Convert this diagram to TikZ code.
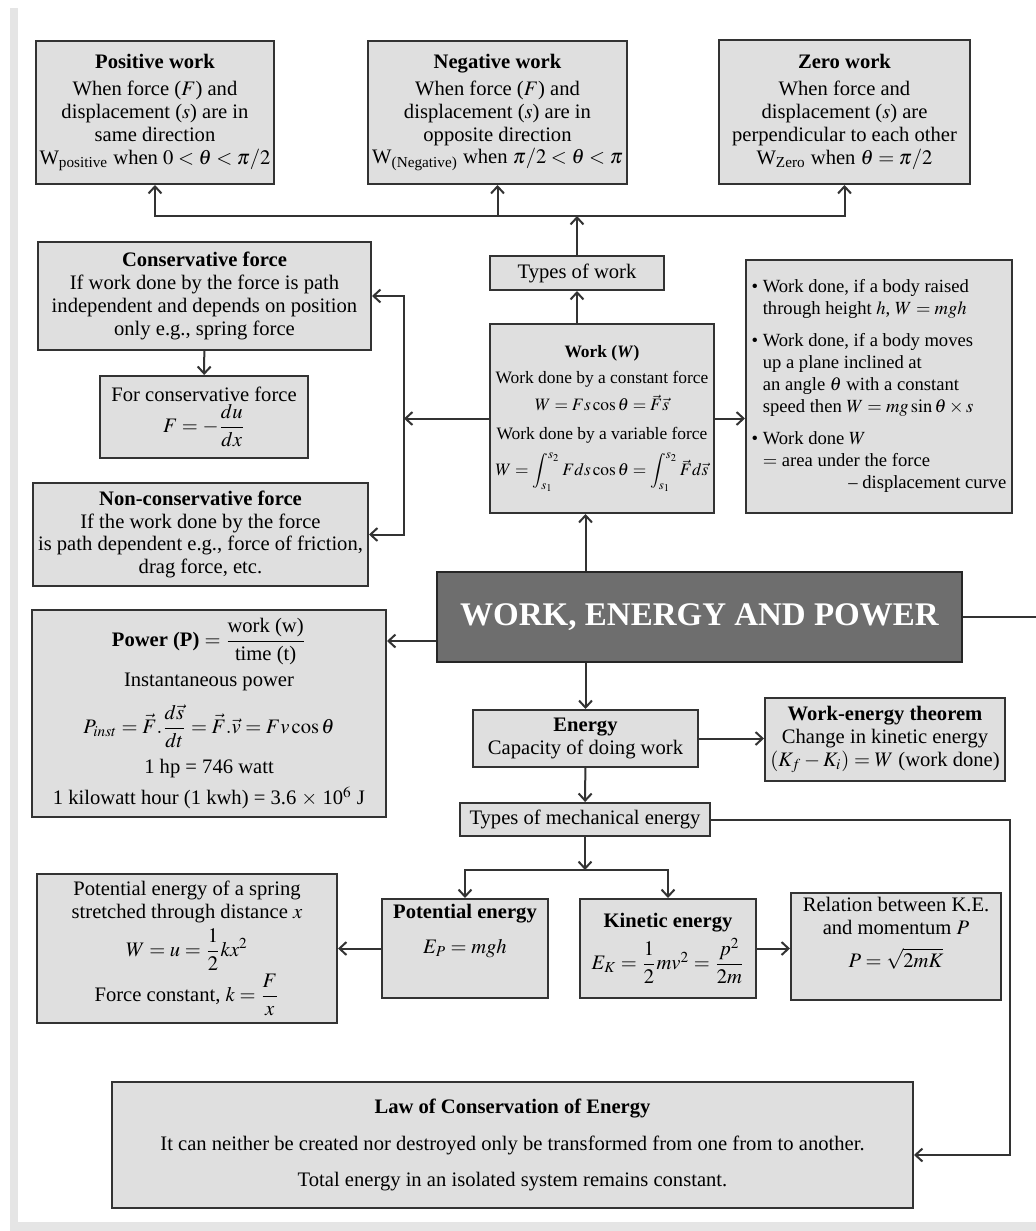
\documentclass[tikz,border=0pt]{standalone}
\usepackage{amsmath}
\usepackage{mathptmx}
\usepackage{fontspec}
\setmainfont{Liberation Serif}
\usetikzlibrary{arrows.meta,positioning}

\tikzset{
    cbox/.style={draw=black!80, fill=gray!25, line width=1pt, align=center,
        inner sep=2pt, font=\fontsize{10.3}{11.4}\selectfont},
    hub/.style={draw=black!85, fill=black!57, line width=1pt, text=white,
        font=\fontsize{16.5}{20}\selectfont\bfseries},
    arr/.style={draw=black!80, line width=1pt, -{Straight Barb[length=3.5pt,width=6.5pt]}},
    lnk/.style={draw=black!80, line width=1pt}
}

\begin{document}
\begin{tikzpicture}[x=0.5pt,y=-0.5pt]
            \useasboundingbox (0,0) rectangle (1036,1231);
            \fill[gray!20] (10,8) rectangle (18,1231);
            \fill[gray!20] (10,1222) rectangle (1036,1231);

            \node[cbox, minimum width=118pt, minimum height=71.5pt] (poswork) at (155,112.5)
                {\textbf{Positive work}\\[2pt] When force ($F$) and\\ displacement ($s$) are in\\ same direction\\
                 W$_{\text{positive}}$ when $0<\theta<\pi/2$};
            \node[cbox, minimum width=129.5pt, minimum height=71.5pt] (negwork) at (497.5,112.5)
                {\textbf{Negative work}\\[2pt] When force ($F$) and\\ displacement ($s$) are in\\ opposite direction\\
                 W$_{\text{(Negative)}}$ when $\pi/2<\theta<\pi$};
            \node[cbox, minimum width=125.5pt, minimum height=72pt] (zerowork) at (844.5,112)
                {\textbf{Zero work}\\[2pt] When force and\\ displacement ($s$) are\\ perpendicular to each other\\
                 W$_{\text{Zero}}$ when $\theta=\pi/2$};

            \node[cbox, minimum width=87pt, minimum height=17pt] (typeswork) at (577,273) {Types of work};
            \coordinate (wbus) at (577,216);

            \node[cbox, font=\fontsize{8.7}{10.4}\selectfont, minimum width=112pt, minimum height=94.5pt] (work) at (602,418.5)
                {\textbf{Work (\textit{W})}\\[3pt] Work done by a constant force\\[3pt]
                 $W=Fs\cos\theta=\vec{F}\vec{s}$\\[4pt] Work done by a variable force\\[4pt]
                 $W=\displaystyle\int_{s_1}^{s_2}Fds\cos\theta=\int_{s_1}^{s_2}\vec{F}d\vec{s}$};

            \node[cbox, font=\fontsize{9.3}{11}\selectfont, align=left, minimum width=133pt, minimum height=126.5pt] (bullets) at (879,386.5)
                {\begin{tabular}{@{}l@{\ }l@{}}
                 \textbullet & Work done, if a body raised\\
                             & through height $h$, $W=mgh$\\[5pt]
                 \textbullet & Work done, if a body moves\\
                             & up a plane inclined at\\
                             & an angle $\theta$ with a constant\\
                             & speed then $W=mg\sin\theta\times s$\\[5pt]
                 \textbullet & Work done $W$\\
                             & $=$ area under the force\\
                             & \hspace*{4.6em}-- displacement curve
                 \end{tabular}};

            \node[cbox, minimum width=166.5pt, minimum height=54pt] (consv) at (204.5,296)
                {\textbf{Conservative force}\\ If work done by the force is path\\
                 independent and depends on position\\ only e.g., spring force};
            \node[cbox, minimum width=104pt, minimum height=41pt] (forconsv) at (204,417)
                {For conservative force\\ $F=-\dfrac{du}{dx}$};
            \node[cbox, minimum width=167.5pt, minimum height=51.5pt] (nonconsv) at (200.5,534.5)
                {\textbf{Non-conservative force}\\ If the work done by the force\\
                 is path dependent e.g., force of friction,\\ drag force, etc.};
            \coordinate (fbus) at (404,418.5);

            \node[hub, minimum width=262.5pt, minimum height=45pt] (title) at (699.5,617)
                {WORK, ENERGY AND POWER};
            \coordinate (edge) at (1036,617);

            \node[cbox, minimum width=177pt, minimum height=103.5pt] (power) at (209,713.5)
                {\textbf{Power (P)} $=\dfrac{\text{work (w)}}{\text{time (t)}}$\\[3pt] Instantaneous power\\[6pt]
                 $P_{inst}=\vec{F}.\dfrac{d\vec{s}}{dt}=\vec{F}.\vec{v}=Fv\cos\theta$\\[5pt]
                 1 hp = 746 watt\\[4pt] 1 kilowatt hour (1 kwh) = 3.6 $\times$ 10$^6$ J};

            \node[cbox, minimum width=112.5pt, minimum height=28.5pt] (energy) at (585.5,738.5)
                {\textbf{Energy}\\ Capacity of doing work};
            \node[cbox, minimum width=120pt, minimum height=41.5pt] (theorem) at (885,739.5)
                {\textbf{Work-energy theorem}\\ Change in kinetic energy\\ $(K_f-K_i)=W$ (work done)};
            \node[cbox, minimum width=125pt, minimum height=16.5pt] (typesmech) at (585,819.5)
                {Types of mechanical energy};
            \coordinate (mbus) at (585,870);

            \node[cbox, minimum width=150pt, minimum height=74.5pt] (spring) at (187,948.5)
                {Potential energy of a spring\\ stretched through distance $x$\\[2pt]
                 $W=u=\dfrac{1}{2}kx^2$\\[1pt] Force constant, $k=\dfrac{F}{x}$};
            \node[cbox, minimum width=83pt, minimum height=49.5pt] (pe) at (465,948.5)
                {\textbf{Potential energy}\\[6pt] $E_P=mgh$\\[8pt]};
            \node[cbox, minimum width=88pt, minimum height=49.5pt] (ke) at (668,948.5)
                {\textbf{Kinetic energy}\\[2pt] $E_K=\dfrac{1}{2}mv^2=\dfrac{p^2}{2m}$};
            \node[cbox, minimum width=105pt, minimum height=49.5pt] (relation) at (896,946.5)
                {Relation between K.E.\\ and momentum $P$\\[5pt] $P=\sqrt{2mK}$\\[3pt]};

            \node[cbox, minimum width=400.5pt, minimum height=63pt] (law) at (512.5,1145)
                {\textbf{Law of Conservation of Energy}\\[7pt]
                 It can neither be created nor destroyed only be transformed from one from to another.\\[7pt]
                 Total energy in an isolated system remains constant.};
            \coordinate (rbus) at (1010,1155);

            \draw[arr] (typeswork) -- (wbus);
            \draw[arr] (wbus) -| (poswork);
            \draw[arr] (wbus) -| (zerowork);
            \draw[arr] (negwork |- wbus) -- (negwork);
            \draw[arr] (work.north -| typeswork) -- (typeswork);
            \draw[arr] (work) -- (work -| bullets.west);
            \draw[arr] (work) -- (fbus);
            \draw[arr] (fbus) |- (consv);
            \draw[arr] (fbus) |- (nonconsv);
            \draw[arr] (consv) -- (forconsv);

            \draw[arr] (title.north -| energy) -- (work.south -| energy);
            \draw[arr] ([yshift=-12pt]title.west) -- ([yshift=-12pt]title.west -| power.east);
            \draw[lnk] (title) -- (edge);
            \draw[arr] (title.south -| energy) -- (energy);
            \draw[arr] (energy) -- (energy -| theorem.west);
            \draw[arr] (energy) -- (typesmech);
            \draw[arr] (typesmech) -- (mbus);
            \draw[arr] (mbus) -| (pe);
            \draw[arr] (mbus) -| (ke);
            \draw[arr] (pe) -- (spring);
            \draw[arr] (ke) -- (ke -| relation.west);
            \draw[arr] (typesmech) -| (rbus) -- (rbus -| law.east);
\end{tikzpicture}
\end{document}
